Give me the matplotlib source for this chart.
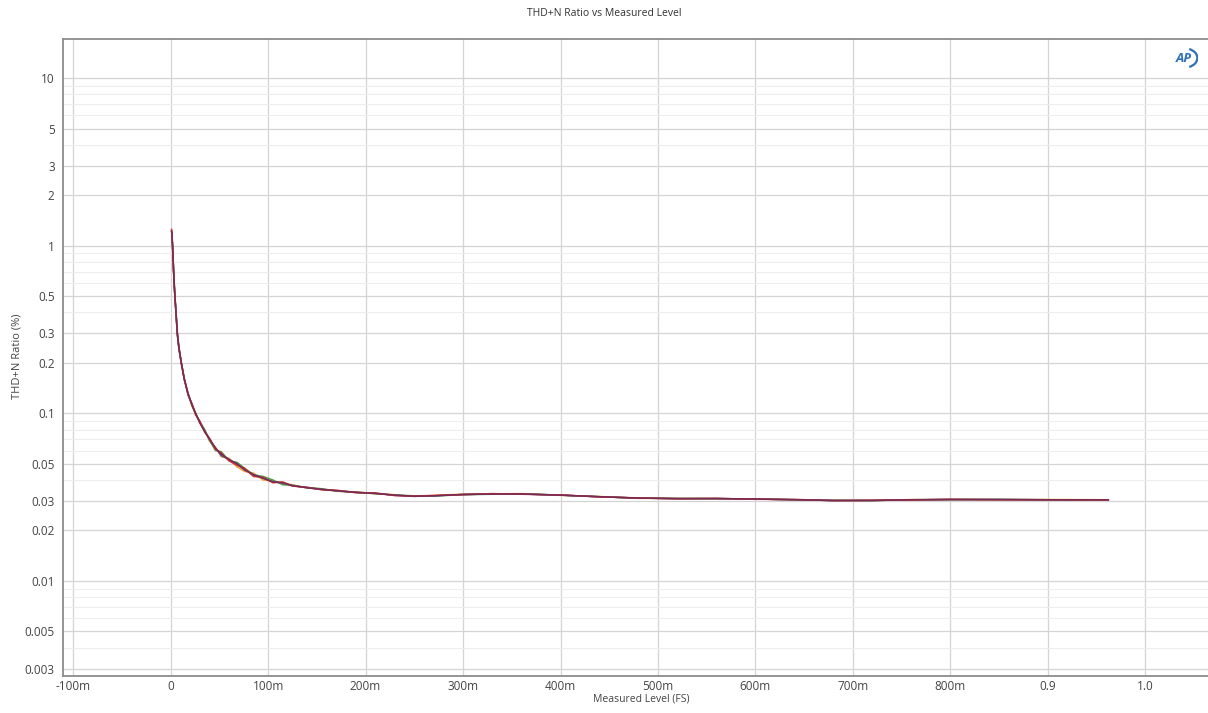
import matplotlib
matplotlib.use('Agg')
import matplotlib.pyplot as plt
from matplotlib.ticker import FixedLocator
from matplotlib.patches import Arc

plt.rcParams['font.family'] = ['Open Sans', 'DejaVu Sans']

# Measured level (FS) shared by all channels
level = [0.0010, 0.0013, 0.0016, 0.0020, 0.0025, 0.0030, 0.0037, 0.0044, 0.0055, 0.0069,
         0.0085, 0.011, 0.014, 0.018, 0.022, 0.0256, 0.030, 0.035, 0.040, 0.046,
         0.052, 0.060, 0.068, 0.076, 0.085, 0.095, 0.105, 0.115, 0.125, 0.14,
         0.155, 0.17, 0.19, 0.21, 0.23, 0.25, 0.27, 0.30, 0.33, 0.36,
         0.40, 0.44, 0.48, 0.52, 0.56, 0.60, 0.645, 0.68, 0.72, 0.76,
         0.80, 0.85, 0.90, 0.962]

# THD+N ratio (%) per channel
thdn_orange = [1.20, 1.19, 1.08, 1.01, 0.84, 0.73, 0.58, 0.51, 0.39, 0.31,
               0.24, 0.202, 0.158, 0.132, 0.110, 0.101, 0.087, 0.079, 0.068, 0.063,
               0.055, 0.054, 0.048, 0.045, 0.044, 0.040, 0.0395, 0.038, 0.0375, 0.0358,
               0.0354, 0.0343, 0.0340, 0.0331, 0.0327, 0.0319, 0.0323, 0.0330, 0.0331, 0.0332,
               0.0324, 0.0319, 0.0311, 0.0311, 0.0309, 0.0309, 0.0304, 0.0303, 0.0301, 0.0306,
               0.0305, 0.0306, 0.0306, 0.0305]
thdn_green = [1.23, 1.21, 1.11, 0.99, 0.85, 0.72, 0.59, 0.50, 0.40, 0.29,
              0.246, 0.201, 0.161, 0.131, 0.111, 0.099, 0.089, 0.080, 0.069, 0.060,
              0.059, 0.052, 0.051, 0.047, 0.043, 0.042, 0.040, 0.0375, 0.0372, 0.0361,
              0.0355, 0.0344, 0.0337, 0.0332, 0.0326, 0.0322, 0.0321, 0.0327, 0.0329, 0.0331,
              0.0325, 0.0318, 0.0312, 0.0310, 0.0310, 0.0308, 0.0305, 0.0302, 0.0302, 0.0305,
              0.0306, 0.0306, 0.0305, 0.0305]
thdn_blue = [1.21, 1.20, 1.09, 1.00, 0.85, 0.72, 0.59, 0.50, 0.40, 0.30,
             0.245, 0.199, 0.160, 0.129, 0.113, 0.100, 0.088, 0.078, 0.070, 0.062,
             0.056, 0.053, 0.050, 0.046, 0.043, 0.041, 0.039, 0.0385, 0.0370, 0.0360,
             0.0351, 0.0346, 0.0338, 0.0333, 0.0324, 0.0320, 0.0322, 0.0328, 0.0330, 0.0330,
             0.0325, 0.0318, 0.0312, 0.0310, 0.0310, 0.0308, 0.0305, 0.0302, 0.0302, 0.0305,
             0.0306, 0.0306, 0.0305, 0.0305]
thdn_red = [1.25, 1.18, 1.12, 0.98, 0.86, 0.71, 0.60, 0.49, 0.41, 0.30,
            0.25, 0.198, 0.162, 0.128, 0.114, 0.098, 0.090, 0.077, 0.071, 0.061,
            0.058, 0.052, 0.049, 0.047, 0.042, 0.0415, 0.0385, 0.039, 0.0368, 0.0362,
            0.0350, 0.0348, 0.0336, 0.0335, 0.0323, 0.0321, 0.0324, 0.0327, 0.0332, 0.0329,
            0.0326, 0.0317, 0.0313, 0.0309, 0.0311, 0.0307, 0.0306, 0.0301, 0.0303, 0.0304,
            0.0307, 0.0305, 0.0305, 0.0304]
thdn_maroon = [1.22, 1.20, 1.10, 1.00, 0.85, 0.72, 0.59, 0.50, 0.40, 0.30,
               0.245, 0.20, 0.16, 0.13, 0.112, 0.100, 0.088, 0.078, 0.070, 0.062,
               0.057, 0.053, 0.050, 0.046, 0.043, 0.041, 0.039, 0.0385, 0.037, 0.036,
               0.0352, 0.0345, 0.0338, 0.0333, 0.0325, 0.0320, 0.0322, 0.0328, 0.0330, 0.0330,
               0.0325, 0.0318, 0.0312, 0.0310, 0.0310, 0.0308, 0.0305, 0.0302, 0.0302, 0.0305,
               0.0306, 0.0306, 0.0305, 0.0305]

x_ticks = [-0.1, 0, 0.1, 0.2, 0.3, 0.4, 0.5, 0.6, 0.7, 0.8, 0.9, 1.0]
x_labels = ['-100m', '0', '100m', '200m', '300m', '400m', '500m', '600m', '700m', '800m', '0.9', '1.0']
y_ticks = [10, 5, 3, 2, 1, 0.5, 0.3, 0.2, 0.1, 0.05, 0.03, 0.02, 0.01, 0.005, 0.003]
y_labels = ['10', '5', '3', '2', '1', '0.5', '0.3', '0.2', '0.1', '0.05', '0.03', '0.02', '0.01', '0.005', '0.003']
y_minor = [m * d for d in (0.001, 0.01, 0.1, 1, 10) for m in (4, 6, 7, 8, 9)]

fig = plt.figure(figsize=(12.08, 7.13), dpi=100)
ax = fig.add_axes([63 / 1208, 1 - 676 / 713, (1220 - 63) / 1208, (676 - 39) / 713])

series = [
    (thdn_orange, '#f2a02c'),
    (thdn_green, '#4f9a46'),
    (thdn_blue, '#3b55a8'),
    (thdn_red, '#d8342c'),
    (thdn_maroon, '#7a2a55'),
]
for ys, col in series:
    ax.plot(level, ys, color=col, linewidth=1.1)

ax.set_yscale('log')
ax.set_xlim(-0.1104, 1.0766)
ax.set_ylim(0.00271, 17.1)

ax.xaxis.set_major_locator(FixedLocator(x_ticks))
ax.set_xticklabels(x_labels)
ax.yaxis.set_major_locator(FixedLocator(y_ticks))
ax.set_yticklabels(y_labels)
ax.yaxis.set_minor_locator(FixedLocator(y_minor))
ax.yaxis.set_minor_formatter(plt.NullFormatter())

ax.grid(True, which='major', color='#d4d4d4', linewidth=0.9)
ax.grid(True, which='minor', axis='y', color='#ededed', linewidth=0.8)
ax.set_axisbelow(True)
ax.tick_params(which='both', length=0, labelsize=8.5, labelcolor='#444444')
ax.tick_params(axis='x', pad=3)
ax.tick_params(axis='y', pad=6)

for side in ('left', 'bottom', 'top'):
    ax.spines[side].set_color('#8c8c8c')
    ax.spines[side].set_linewidth(1.3)
ax.spines['right'].set_visible(False)

ax.set_xlabel('Measured Level (FS)', fontsize=7.5, color='#444444', labelpad=0)
fig.text(17 / 1208, 1 - 356 / 713, 'THD+N Ratio (%)', rotation=90, ha='center', va='center',
         fontsize=8, color='#444444')
fig.text(0.5, 1 - 14 / 713, 'THD+N Ratio vs Measured Level', ha='center', va='center',
         fontsize=7.5, color='#333333')

# AP logo
fig.text(1184 / 1208, 1 - 58 / 713, 'AP', ha='center', va='center',
         fontsize=9.5, fontweight='bold', style='italic', color='#2f6fb8')
logo_ax = fig.add_axes([1172 / 1208, 1 - 68 / 713, 26 / 1208, 20 / 713])
logo_ax.set_axis_off()
logo_ax.set_xlim(0, 1)
logo_ax.set_ylim(0, 1)
logo_ax.add_patch(Arc((0.5, 0.5), 0.95, 0.95, theta1=-70, theta2=70, color='#2f6fb8', linewidth=1.6))

fig.savefig('out.png', dpi=100)
